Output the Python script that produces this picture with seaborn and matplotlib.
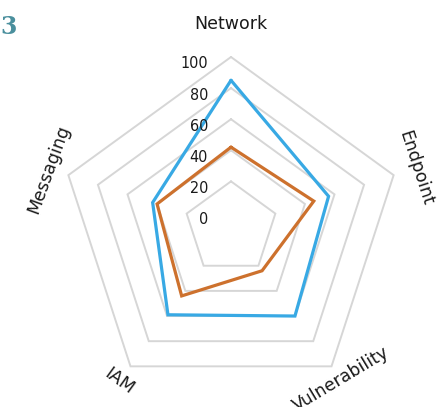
import numpy as np
import pandas as pd
import matplotlib
matplotlib.use("Agg")
import matplotlib.pyplot as plt
import seaborn as sns

# ---- data ----
categories = ["Network", "Endpoint", "Vulnerability", "IAM", "Messaging"]
series_names = ["Series 1", "Series 2"]
series1_values = [85, 56, 60, 59, 43]   # blue
series2_values = [42, 46, 24, 44, 40]   # orange
ring_values = [20, 40, 60, 80, 100]
tick_values = [0, 20, 40, 60, 80, 100]
tick_labels = ["0", "20", "40", "60", "80", "100"]
panel_label = "3"

# ---- style ----
sns.set_style("white")
plt.rcParams['font.family'] = ['DejaVu Sans']
BLUE = "#38a9e4"
ORANGE = "#cd712d"
GRID = "#d6d6d6"

n = len(categories)
angles = np.pi / 2 - 2 * np.pi * np.arange(n) / n
closed_angles = np.append(angles, angles[0] - 2 * np.pi)

rows = []
for name, vals in zip(series_names, [series1_values, series2_values]):
    closed_vals = list(vals) + [vals[0]]
    for k, (t, v) in enumerate(zip(closed_angles, closed_vals)):
        rows.append({"series": name, "theta": t, "value": v, "order": k})
df = pd.DataFrame(rows)

fig = plt.figure(figsize=(4.48, 4.07), dpi=100)
ax = fig.add_axes([60 / 448, 8 / 407, 342 / 448, 342 / 407], projection="polar")
ax.set_ylim(-10, 100)
ax.grid(False)
ax.spines["polar"].set_visible(False)
ax.set_xticks([])
ax.set_yticks([])
ax.patch.set_alpha(0)

# pentagon rings
for v in ring_values:
    ax.plot(closed_angles, [v] * len(closed_angles), color=GRID, lw=1.4,
            zorder=1, clip_on=False, solid_joinstyle="miter")

sns.lineplot(data=df, x="theta", y="value", hue="series", hue_order=series_names,
             palette=[BLUE, ORANGE], sort=False, estimator=None, linewidth=2.3,
             legend=False, ax=ax, zorder=3, clip_on=False, solid_joinstyle="miter")
ax.set_xlabel("")
ax.set_ylabel("")
ax.set_ylim(-10, 100)

# radial tick labels
for v, lab in zip(tick_values, tick_labels):
    ax.annotate(lab, xy=(np.pi / 2, v), xytext=(-16.5, -5), textcoords="offset points",
                ha="right", va="center", fontsize=11.5, fontstretch="condensed",
                family=["DejaVu Sans"], color="#1a1a1a",
                annotation_clip=False, zorder=4)

# category labels
label_r = [121, 115, 110, 112, 113]
label_rot = [0, -72, 31, -36, 70]
for cat, t, r, rot in zip(categories, angles, label_r, label_rot):
    ax.text(t, r, cat, rotation=rot, rotation_mode="anchor", ha="center", va="center",
            fontsize=12.5, color="#1a1a1a", clip_on=False)

fig.text(0.5 / 448, 1 - 27 / 407, panel_label, ha="left", va="center", fontsize=17,
         fontweight="bold", family=["DejaVu Serif"], color="#4a8f9d")

fig.savefig("out.png", dpi=100)
